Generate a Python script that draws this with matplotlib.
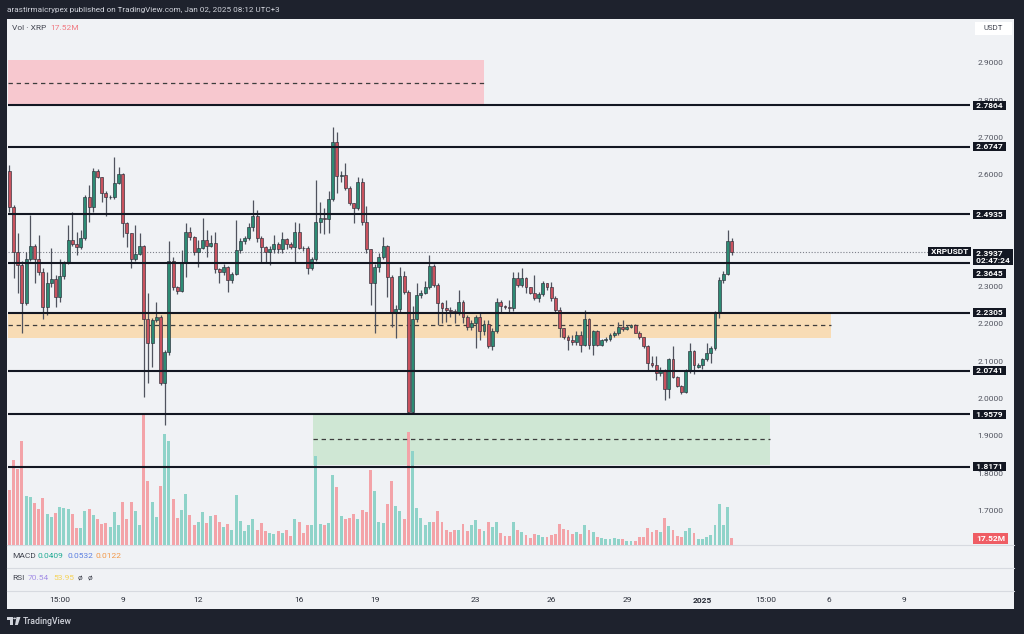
import matplotlib
matplotlib.use("Agg")
import matplotlib.pyplot as plt
import matplotlib.transforms as mtransforms
from matplotlib.patches import Rectangle, Polygon, Circle
from matplotlib.lines import Line2D
import numpy as np

plt.rcParams['font.family'] = ['Roboto', 'DejaVu Sans']

# ---------------- data (XRPUSDT, 4h candles) ----------------
opens = [2.611, 2.513, 2.394, 2.358, 2.255, 2.373, 2.409, 2.373, 2.338, 2.245,
         2.309, 2.320, 2.273, 2.329, 2.364, 2.425, 2.414, 2.407, 2.430, 2.541,
         2.514, 2.611, 2.593, 2.552, 2.539, 2.540, 2.579, 2.602, 2.470, 2.443,
         2.373, 2.388, 2.409, 2.213, 2.150, 2.211, 2.220, 2.041, 2.126, 2.370,
         2.300, 2.289, 2.363, 2.447, 2.432, 2.394, 2.403, 2.425, 2.409, 2.416,
         2.347, 2.338, 2.352, 2.318, 2.334, 2.397, 2.421, 2.430, 2.461, 2.488,
         2.430, 2.407, 2.394, 2.400, 2.414, 2.400, 2.427, 2.414, 2.407, 2.447,
         2.404, 2.403, 2.351, 2.373, 2.474, 2.483, 2.482, 2.534, 2.688, 2.597,
         2.599, 2.565, 2.523, 2.510, 2.581, 2.472, 2.400, 2.311, 2.352, 2.380,
         2.409, 2.327, 2.230, 2.239, 2.329, 2.287, 1.965, 2.213, 2.278, 2.282,
         2.300, 2.355, 2.305, 2.257, 2.242, 2.238, 2.236, 2.229, 2.260, 2.220,
         2.191, 2.204, 2.218, 2.180, 2.200, 2.141, 2.182, 2.260, 2.248, 2.246,
         2.244, 2.322, 2.304, 2.322, 2.298, 2.284, 2.269, 2.280, 2.309, 2.298,
         2.269, 2.238, 2.188, 2.166, 2.157, 2.153, 2.171, 2.144, 2.213, 2.144,
         2.180, 2.144, 2.157, 2.160, 2.171, 2.175, 2.191, 2.186, 2.193, 2.197,
         2.177, 2.164, 2.141, 2.096, 2.090, 2.068, 2.077, 2.025, 2.105, 2.059,
         2.034, 2.019, 2.077, 2.129, 2.086, 2.091, 2.105, 2.123, 2.135, 2.230,
         2.318, 2.334, 2.423]
highs = [2.626, 2.520, 2.443, 2.370, 2.394, 2.492, 2.415, 2.438, 2.350, 2.340,
         2.403, 2.330, 2.373, 2.370, 2.465, 2.501, 2.447, 2.452, 2.546, 2.572,
         2.617, 2.615, 2.595, 2.555, 2.545, 2.646, 2.621, 2.605, 2.472, 2.445,
         2.465, 2.443, 2.412, 2.282, 2.215, 2.260, 2.225, 2.130, 2.421, 2.380,
         2.302, 2.398, 2.470, 2.461, 2.435, 2.425, 2.483, 2.452, 2.438, 2.447,
         2.350, 2.360, 2.355, 2.340, 2.479, 2.430, 2.435, 2.470, 2.532, 2.505,
         2.435, 2.410, 2.410, 2.438, 2.420, 2.447, 2.430, 2.420, 2.474, 2.471,
         2.410, 2.410, 2.380, 2.586, 2.528, 2.510, 2.555, 2.729, 2.715, 2.610,
         2.630, 2.570, 2.525, 2.593, 2.590, 2.516, 2.402, 2.360, 2.390, 2.432,
         2.412, 2.330, 2.250, 2.354, 2.343, 2.290, 2.247, 2.311, 2.290, 2.316,
         2.385, 2.360, 2.310, 2.260, 2.264, 2.245, 2.240, 2.291, 2.265, 2.225,
         2.210, 2.225, 2.233, 2.210, 2.210, 2.190, 2.270, 2.264, 2.250, 2.264,
         2.340, 2.340, 2.349, 2.325, 2.300, 2.331, 2.285, 2.315, 2.310, 2.313,
         2.275, 2.245, 2.190, 2.170, 2.170, 2.180, 2.180, 2.238, 2.215, 2.185,
         2.185, 2.160, 2.165, 2.175, 2.180, 2.206, 2.211, 2.197, 2.200, 2.200,
         2.180, 2.165, 2.143, 2.113, 2.113, 2.085, 2.080, 2.110, 2.141, 2.060,
         2.036, 2.080, 2.148, 2.130, 2.095, 2.110, 2.148, 2.140, 2.235, 2.325,
         2.343, 2.452, 2.430]
lows = [2.500, 2.322, 2.282, 2.175, 2.250, 2.370, 2.309, 2.330, 2.213, 2.224,
        2.300, 2.246, 2.260, 2.320, 2.360, 2.410, 2.385, 2.400, 2.425, 2.474,
        2.501, 2.590, 2.528, 2.488, 2.535, 2.535, 2.575, 2.434, 2.407, 2.349,
        2.370, 2.385, 2.005, 2.041, 2.086, 2.205, 2.037, 1.930, 2.117, 2.290,
        2.280, 2.285, 2.327, 2.425, 2.385, 2.354, 2.400, 2.380, 2.405, 2.336,
        2.309, 2.330, 2.287, 2.310, 2.330, 2.390, 2.415, 2.425, 2.450, 2.420,
        2.367, 2.367, 2.358, 2.390, 2.390, 2.389, 2.400, 2.400, 2.367, 2.400,
        2.395, 2.334, 2.345, 2.370, 2.443, 2.440, 2.443, 2.530, 2.552, 2.580,
        2.560, 2.520, 2.470, 2.505, 2.465, 2.390, 2.251, 2.175, 2.340, 2.375,
        2.273, 2.193, 2.162, 2.230, 2.280, 1.958, 1.958, 2.206, 2.270, 2.280,
        2.295, 2.300, 2.197, 2.202, 2.206, 2.220, 2.202, 2.225, 2.202, 2.185,
        2.185, 2.135, 2.157, 2.170, 2.135, 2.130, 2.175, 2.229, 2.240, 2.229,
        2.235, 2.300, 2.300, 2.282, 2.280, 2.265, 2.260, 2.275, 2.290, 2.262,
        2.230, 2.164, 2.160, 2.130, 2.145, 2.145, 2.126, 2.140, 2.132, 2.117,
        2.140, 2.140, 2.152, 2.155, 2.165, 2.170, 2.180, 2.183, 2.190, 2.175,
        2.160, 2.137, 2.077, 2.085, 2.050, 2.060, 1.996, 2.001, 2.055, 2.030,
        2.012, 2.015, 2.070, 2.066, 2.082, 2.080, 2.100, 2.095, 2.130, 2.215,
        2.310, 2.330, 2.385]
closes = [2.513, 2.394, 2.358, 2.255, 2.373, 2.409, 2.373, 2.338, 2.245, 2.309,
          2.320, 2.273, 2.329, 2.364, 2.425, 2.414, 2.407, 2.430, 2.541, 2.514,
          2.611, 2.593, 2.552, 2.539, 2.540, 2.579, 2.602, 2.470, 2.443, 2.373,
          2.388, 2.409, 2.213, 2.150, 2.211, 2.220, 2.041, 2.126, 2.370, 2.300,
          2.289, 2.363, 2.447, 2.432, 2.394, 2.403, 2.425, 2.409, 2.416, 2.347,
          2.338, 2.352, 2.318, 2.334, 2.397, 2.421, 2.430, 2.461, 2.488, 2.430,
          2.407, 2.394, 2.400, 2.414, 2.400, 2.427, 2.414, 2.407, 2.447, 2.404,
          2.403, 2.351, 2.373, 2.474, 2.483, 2.482, 2.534, 2.688, 2.597, 2.599,
          2.565, 2.523, 2.510, 2.581, 2.472, 2.400, 2.311, 2.352, 2.380, 2.409,
          2.327, 2.230, 2.239, 2.329, 2.287, 1.965, 2.213, 2.278, 2.282, 2.300,
          2.355, 2.305, 2.257, 2.242, 2.238, 2.236, 2.229, 2.260, 2.220, 2.191,
          2.204, 2.218, 2.180, 2.200, 2.141, 2.182, 2.260, 2.248, 2.246, 2.244,
          2.322, 2.304, 2.322, 2.298, 2.284, 2.269, 2.280, 2.309, 2.298, 2.269,
          2.238, 2.188, 2.166, 2.157, 2.153, 2.171, 2.144, 2.213, 2.144, 2.180,
          2.144, 2.157, 2.160, 2.171, 2.175, 2.191, 2.186, 2.193, 2.197, 2.177,
          2.164, 2.141, 2.096, 2.090, 2.068, 2.077, 2.025, 2.105, 2.059, 2.034,
          2.019, 2.077, 2.129, 2.090, 2.091, 2.105, 2.123, 2.135, 2.230, 2.318,
          2.334, 2.423, 2.3937]
volumes_m = [143, 221, 198, 270, 127, 125, 109, 94, 122, 81,
             73, 83, 99, 96, 94, 81, 44, 44, 88, 94,
             78, 68, 55, 57, 47, 86, 52, 112, 68, 112,
             88, 52, 343, 166, 112, 73, 153, 289, 270, 120,
             70, 91, 133, 78, 52, 60, 86, 57, 75, 78,
             60, 47, 55, 39, 130, 62, 36, 52, 68, 39,
             57, 36, 31, 29, 36, 31, 39, 23, 68, 60,
             31, 52, 52, 231, 55, 52, 57, 182, 151, 75,
             68, 70, 81, 68, 91, 86, 195, 140, 60, 57,
             107, 166, 101, 88, 68, 294, 244, 96, 70, 52,
             60, 60, 88, 60, 39, 34, 39, 39, 55, 36,
             52, 65, 42, 36, 60, 47, 60, 31, 23, 23,
             60, 39, 34, 26, 18, 29, 26, 21, 21, 26,
             29, 55, 42, 39, 29, 34, 29, 52, 39, 34,
             21, 18, 16, 16, 18, 16, 16, 10, 10, 10,
             21, 21, 44, 34, 39, 34, 70, 49, 39, 23,
             21, 36, 44, 31, 16, 16, 21, 26, 52, 107,
             52, 99, 17.52]

levels = [2.7864, 2.6747, 2.4935, 2.3645, 2.2305, 2.0741, 1.9579, 1.8171]
last_price = 2.3937
countdown = "02:47:24"

# zones: (start candle, end candle, bottom, top, mid)
zone_start = [-0.31, -0.31, 72.3]
zone_end = [113.0, 195.6, 181.1]
zone_low = [2.790, 2.1625, 1.822]
zone_high = [2.907, 2.2326, 1.9589]
zone_mid = [2.8456, 2.197, 1.892]
zone_colors = ['#f7c8cf', '#f8dcb5', '#cfe7d4']

# price scale labels visible in the reference (2.4 and 2.5 are hidden under labels)
price_ticks = [1.7, 1.8, 1.9, 2.0, 2.1, 2.2, 2.3, 2.6, 2.7, 2.8, 2.9]
time_tick_pos = [12, 27, 45, 69, 87, 111, 129, 147, 165, 180, 195, 213]
time_tick_labels = ['15:00', '9', '12', '16', '19', '23', '26', '29', '2025', '15:00', '6', '9']

# ---------------- figure ----------------
W, H = 1024, 634
DARK = '#1e222d'
BG = '#f0f2f5'
FS = 6.0
fig = plt.figure(figsize=(W / 100, H / 100), dpi=100, facecolor=DARK)


def frect(x0, y0, x1, y1):
    return [x0 / W, 1 - y1 / H, (x1 - x0) / W, (y1 - y0) / H]


def ftext(x, y, s, **kw):
    kw.setdefault('va', 'center')
    return fig.text(x / W, 1 - y / H, s, **kw)


fig.add_artist(Rectangle((7 / W, 1 - 609 / H), (1014 - 7) / W, (609 - 19) / H,
                         transform=fig.transFigure, facecolor=BG, edgecolor='none', zorder=-5))
for yy in (545, 568, 591):
    fig.add_artist(Line2D([7 / W, 1014 / W], [1 - yy / H] * 2, color='#d7dae0', lw=0.8,
                          transform=fig.transFigure, zorder=-4))

ax = fig.add_axes(frect(8, 19, 970, 545))
ax_v = ax.twinx()
ax.set_zorder(2)
ax_v.set_zorder(1)
ax.patch.set_visible(False)
ax_v.patch.set_visible(False)

x = np.arange(len(closes))
o = np.array(opens); h = np.array(highs); l = np.array(lows); c = np.array(closes)
up = c >= o

ax.set_xlim(-0.31, 228.7)
ax.set_ylim(1.608, 3.017)
ax_v.set_ylim(0, 1367.6)

# zones (drawn on the volume axes so that volume bars sit above them)
for s, e, lo, hi, col in zip(zone_start, zone_end, zone_low, zone_high, zone_colors):
    ax_v.add_patch(Rectangle((s, lo), e - s, hi - lo, transform=ax.transData,
                             facecolor=col, edgecolor='none', zorder=0))

# volume
vol_colors = np.where(up, '#8fd3c9', '#f3a3a8')
ax_v.bar(x, volumes_m, width=0.7, color=vol_colors, edgecolor='none', zorder=2)
ax_v.set_yticks([])
for sp in ax_v.spines.values():
    sp.set_visible(False)

# zone mid dashed lines
for s, e, m in zip(zone_start, zone_end, zone_mid):
    ax.hlines(m, s, e, colors='#3c3c3c', linestyles=(0, (3.5, 3)), lw=0.9, zorder=3)

# last price dotted line
ax.axhline(last_price, color='#7d808a', lw=0.8, ls=(0, (1, 1.6)), zorder=3)

# candles
ax.vlines(x, l, h, colors='#50535e', lw=0.9, zorder=4)
body_low = np.minimum(o, c)
body_h = np.maximum(np.abs(c - o), 0.0018)
ax.bar(x, body_h, bottom=body_low, width=0.7,
       color=np.where(up, '#2d8b74', '#c9525e'), edgecolor='#2a2e39', linewidth=0.45, zorder=5)

# horizontal levels
for lv in levels:
    ax.axhline(lv, color='#131722', lw=1.5, zorder=6)

# axes styling
for sp in ax.spines.values():
    sp.set_visible(False)
ax.yaxis.tick_right()
ax.set_yticks(price_ticks)
ax.set_yticklabels([f'{t:.4f}' for t in price_ticks])
ax.tick_params(axis='y', length=0, pad=5.5, labelsize=FS, labelcolor='#50535e')
ax.set_xticks(time_tick_pos)
ax.set_xticklabels(time_tick_labels)
ax.tick_params(axis='x', length=0, pad=37.3, labelsize=FS, labelcolor='#2a2e39')
for lab in ax.get_xticklabels():
    if lab.get_text() == '2025':
        lab.set_fontweight('bold')

# price labels on the scale
blend = mtransforms.blended_transform_factory(ax.transAxes, ax.transData)
xl = (974 - 8) / 962
box = dict(boxstyle='square,pad=0.12', fc='#131722', ec='none')
for lv in levels:
    off = -7.7 if lv == 2.3645 else 0
    ax.annotate(f' {lv:.4f} ', xy=(xl, lv), xycoords=blend, xytext=(0, off),
                textcoords='offset points', ha='left', va='center', fontsize=FS,
                fontweight='bold', color='white', annotation_clip=False, zorder=9, bbox=box)
ax.annotate(f' {last_price:.4f}\n {countdown} ', xy=(xl, last_price), xycoords=blend,
            xytext=(0, -3.8), textcoords='offset points', ha='left', va='center',
            multialignment='left', fontsize=FS, fontweight='bold', color='white',
            linespacing=1.1, annotation_clip=False, zorder=10, bbox=box)
ax.annotate(' XRPUSDT ', xy=(1.0, last_price), xycoords=blend, ha='right', va='center',
            fontsize=FS, fontweight='bold', color='white', annotation_clip=False, zorder=10,
            bbox=box)

# header / legends
ftext(7, 10, 'arastirmaicrypex published on TradingView.com, Jan 02, 2025 08:12 UTC+3',
      color='#d1d4dc', fontsize=5.9)
ftext(12.5, 28.5, 'Vol · XRP', color='#434651', fontsize=FS)
ftext(50, 28.5, '17.52M', color='#f07a82', fontsize=FS)

fig.add_artist(Rectangle((975 / W, 1 - 35 / H), 37 / W, 13 / H, transform=fig.transFigure,
                         facecolor='white', edgecolor='none', zorder=3))
ftext(993.5, 28.5, 'USDT', color='#434651', fontsize=5.6, ha='center', zorder=4)

fig.add_artist(Rectangle((973 / W, 1 - 544 / H), 35 / W, 11 / H, transform=fig.transFigure,
                         facecolor='#ef5d64', edgecolor='none', zorder=3))
ftext(990.5, 538.5, '17.52M', color='white', fontsize=FS, fontweight='bold', ha='center', zorder=4)

ftext(12.5, 555.5, 'MACD', color='#434651', fontsize=FS)
ftext(37.5, 555.5, '0.0409', color='#22ab94', fontsize=FS)
ftext(67, 555.5, '0.0532', color='#5b7fe0', fontsize=FS)
ftext(96, 555.5, '0.0122', color='#f2994a', fontsize=FS)

ftext(12.5, 578.5, 'RSI', color='#434651', fontsize=FS)
ftext(28, 578.5, '70.54', color='#a48fe6', fontsize=FS)
ftext(53, 578.5, '53.95', color='#f5d35a', fontsize=FS)
ftext(78, 578.5, 'ø', color='#434651', fontsize=FS)
ftext(88, 578.5, 'ø', color='#434651', fontsize=FS)

# TradingView logo
LOGO = '#d1d4dc'
fig.add_artist(Rectangle((7 / W, 1 - 619.5 / H), 6 / W, 2.5 / H, transform=fig.transFigure,
                         facecolor=LOGO, edgecolor='none'))
fig.add_artist(Rectangle((10 / W, 1 - 625 / H), 2.5 / W, 8 / H, transform=fig.transFigure,
                         facecolor=LOGO, edgecolor='none'))
fig.add_artist(Circle((14.6 / W, 1 - 618.4 / H), 1.4 / W, transform=fig.transFigure,
                      facecolor=LOGO, edgecolor='none'))
fig.add_artist(Polygon([(16.5 / W, 1 - 617 / H), (20.5 / W, 1 - 617 / H),
                        (17.8 / W, 1 - 625 / H), (15 / W, 1 - 625 / H)],
                       closed=True, transform=fig.transFigure, facecolor=LOGO, edgecolor='none'))
ftext(22.5, 621, 'TradingView', color=LOGO, fontsize=6.3, fontweight='medium')

fig.savefig('out.png', dpi=100, facecolor=DARK)
